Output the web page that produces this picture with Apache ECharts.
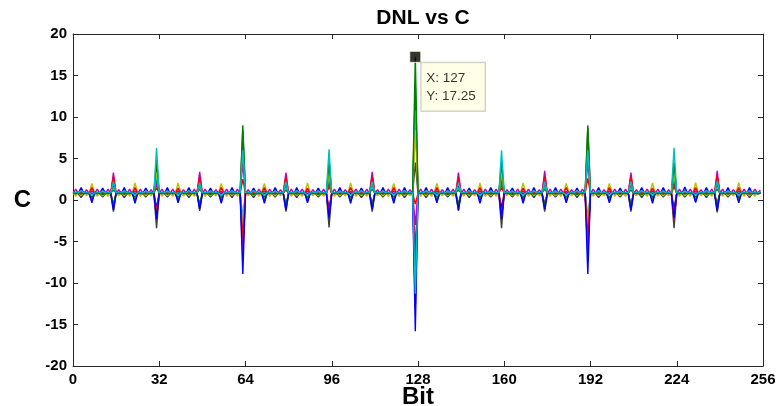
<!DOCTYPE html>
<html>
<head>
<meta charset="utf-8">
<script src="https://cdn.jsdelivr.net/npm/echarts@6/dist/echarts.min.js"></script>
<style>
html,body{margin:0;padding:0;background:#fff;}
#chart{width:780px;height:406px;}
</style>
</head>
<body>
<div id="chart"></div>
<script>
// ---- data ----
const titleText = 'DNL vs C';
const xName = 'Bit';
const yName = 'C';
const xTicks = [0, 32, 64, 96, 128, 160, 192, 224, 256];
const yTicks = [-20, -15, -10, -5, 0, 5, 10, 15, 20];
const nBits = 256;

// codes where the DNL excursions occur
const majorBits = [
  3, 7, 11, 15, 19, 23, 27, 31,
  35, 39, 43, 47, 51, 55, 59, 63,
  67, 71, 75, 79, 83, 87, 91, 95,
  99, 103, 107, 111, 115, 119, 123, 127,
  131, 135, 139, 143, 147, 151, 155, 159,
  163, 167, 171, 175, 179, 183, 187, 191,
  195, 199, 203, 207, 211, 215, 219, 223,
  227, 231, 235, 239, 243, 247, 251, 255
];
// codes with the small ripples
const minorBits = [
  1, 5, 9, 13, 17, 21, 25, 29,
  33, 37, 41, 45, 49, 53, 57, 61,
  65, 69, 73, 77, 81, 85, 89, 93,
  97, 101, 105, 109, 113, 117, 121, 125,
  129, 133, 137, 141, 145, 149, 153, 157,
  161, 165, 169, 173, 177, 181, 185, 189,
  193, 197, 201, 205, 209, 213, 217, 221,
  225, 229, 233, 237, 241, 245, 249, 253
];
// codes with the large excursions (second group of curves)
const bigBits = [15, 31, 47, 63, 79, 95, 111, 127, 143, 159, 175, 191, 207, 223, 239, 255];

const seriesNames = ['k', 'y', 'm', 'r', 'g', 'b', 'c'];
const baselines = [0.75, 0.88, 0.78, 0.8, 0.84, 0.82, 0.86];
const seriesNames2 = ['k2', 'y2', 'm2', 'r2', 'g2', 'b2', 'c2'];
const baselines2 = [0.78, 0.92, 0.74, 0.83, 0.87, 0.8, 0.9];

const kMajor = [
  0.3, -0.1, 0.35, -1.4, 0.3, -0.05, 0.35, -3.4,
  0.35, -0.1, 0.3, -1.3, 0.35, -0.1, 0.3, 8.4,
  0.3, -0.05, 0.35, -1.4, 0.3, -0.1, 0.35, -3.3,
  0.35, -0.1, 0.3, -1.4, 0.35, -0.05, 0.3, 4.5,
  0.3, -0.1, 0.35, -1.3, 0.3, -0.1, 0.35, -3.4,
  0.35, -0.05, 0.3, -1.4, 0.35, -0.1, 0.3, 8.7,
  0.3, -0.1, 0.35, -1.4, 0.3, -0.05, 0.35, -3.4,
  0.35, -0.1, 0.3, -1.5, 0.35, -0.1, 0.3, 0.8
];
const yMajor = [
  0.55, 2.0, 0.5, 2.4, 0.55, 2.05, 0.5, 3.4,
  0.5, 2.05, 0.55, 2.3, 0.5, 2.0, 0.55, -3.0,
  0.55, 2.0, 0.5, 2.4, 0.55, 2.05, 0.5, 3.3,
  0.5, 2.05, 0.55, 2.4, 0.5, 2.0, 0.55, 8.4,
  0.55, 2.0, 0.5, 2.3, 0.55, 2.05, 0.5, 3.4,
  0.5, 2.05, 0.55, 2.4, 0.5, 2.0, 0.55, -3.0,
  0.55, 2.0, 0.5, 2.4, 0.55, 2.05, 0.5, 3.3,
  0.5, 2.1, 0.55, 2.4, 0.5, 2.1, 0.5, 0.9
];
const mMajor = [
  1.25, 1.1, 1.2, 3.3, 1.25, 1.1, 1.2, -2.0,
  1.2, 1.1, 1.25, 3.4, 1.2, 1.05, 1.25, -6.8,
  1.25, 1.1, 1.2, 3.3, 1.25, 1.1, 1.2, -1.9,
  1.2, 1.05, 1.25, 3.4, 1.2, 1.1, 1.25, -3.0,
  1.25, 1.1, 1.2, 3.3, 1.25, 1.1, 1.2, -2.0,
  1.2, 1.1, 1.25, 3.5, 1.2, 1.05, 1.25, -6.8,
  1.25, 1.1, 1.2, 3.3, 1.25, 1.1, 1.2, -1.9,
  1.2, 1.1, 1.25, 3.5, 1.2, 1.1, 1.2, 1.2
];
const rMajor = [
  1.0, 1.5, 1.0, 2.8, 1.05, 1.5, 1.0, -1.3,
  1.0, 1.45, 1.0, 2.7, 1.0, 1.5, 1.05, -4.5,
  1.0, 1.5, 1.0, 2.8, 1.0, 1.45, 1.0, -1.6,
  1.05, 1.5, 1.0, 2.8, 1.0, 1.5, 1.0, -0.5,
  1.0, 1.5, 1.05, 2.7, 1.0, 1.5, 1.0, -1.8,
  1.0, 1.45, 1.0, 2.8, 1.05, 1.5, 1.0, -4.5,
  1.0, 1.5, 1.0, 2.8, 1.0, 1.45, 1.0, -2.4,
  1.0, 1.5, 1.0, 2.9, 1.0, 1.5, 1.0, 0.95
];
const gMajor = [
  0.7, 0.25, 0.65, -0.6, 0.7, 0.3, 0.7, 4.8,
  0.7, 0.25, 0.7, -0.5, 0.65, 0.25, 0.7, 9.0,
  0.65, 0.3, 0.7, -0.6, 0.7, 0.25, 0.65, 4.5,
  0.7, 0.25, 0.7, -0.6, 0.7, 0.3, 0.7, 17.25,
  0.7, 0.3, 0.65, -0.5, 0.7, 0.25, 0.7, 4.6,
  0.65, 0.25, 0.7, -0.6, 0.7, 0.3, 0.65, 9.0,
  0.7, 0.25, 0.7, -0.6, 0.65, 0.25, 0.7, 4.5,
  0.7, 0.3, 0.7, -0.5, 0.7, 0.25, 0.7, 0.9
];
const bMajor = [
  1.5, -0.35, 1.45, -1.2, 1.5, -0.4, 1.45, -2.3,
  1.5, -0.35, 1.5, -1.1, 1.45, -0.4, 1.5, -8.9,
  1.45, -0.4, 1.5, -1.2, 1.5, -0.35, 1.45, -2.2,
  1.5, -0.4, 1.45, -1.1, 1.5, -0.4, 1.5, -15.8,
  1.5, -0.35, 1.5, -1.2, 1.45, -0.4, 1.5, -2.3,
  1.45, -0.4, 1.5, -1.1, 1.5, -0.35, 1.45, -8.9,
  1.5, -0.35, 1.45, -1.2, 1.5, -0.4, 1.5, -2.2,
  1.55, -0.3, 1.5, -1.3, 1.5, -0.35, 1.5, 0.9
];
const cMajor = [
  1.15, 0.6, 1.1, 2.2, 1.15, 0.6, 1.1, 6.3,
  1.1, 0.6, 1.15, 2.1, 1.1, 0.55, 1.15, 6.0,
  1.15, 0.55, 1.1, 2.2, 1.15, 0.6, 1.1, 6.1,
  1.1, 0.6, 1.15, 2.2, 1.1, 0.6, 1.15, -11.3,
  1.15, 0.6, 1.1, 2.1, 1.15, 0.55, 1.1, 6.0,
  1.1, 0.55, 1.15, 2.2, 1.1, 0.6, 1.15, 6.0,
  1.15, 0.6, 1.1, 2.2, 1.15, 0.6, 1.1, 6.3,
  1.1, 0.6, 1.15, 2.3, 1.1, 0.55, 1.1, 0.95
];
const mMinor = [
  1.3, 1.25, 1.3, 1.3, 1.25, 1.3, 1.3, 1.25,
  1.3, 1.3, 1.25, 1.3, 1.3, 1.25, 1.3, 1.3,
  1.25, 1.3, 1.3, 1.25, 1.3, 1.3, 1.25, 1.3,
  1.3, 1.25, 1.3, 1.3, 1.25, 1.3, 1.3, 1.25,
  1.3, 1.3, 1.25, 1.3, 1.3, 1.25, 1.3, 1.3,
  1.25, 1.3, 1.3, 1.25, 1.3, 1.3, 1.25, 1.3,
  1.3, 1.25, 1.3, 1.3, 1.25, 1.3, 1.3, 1.25,
  1.3, 1.3, 1.25, 1.3, 1.3, 1.25, 1.3, 1.3
];
const yMinor = [
  0.45, 0.5, 0.45, 0.45, 0.5, 0.45, 0.45, 0.5,
  0.45, 0.45, 0.5, 0.45, 0.45, 0.5, 0.45, 0.45,
  0.5, 0.45, 0.45, 0.5, 0.45, 0.45, 0.5, 0.45,
  0.45, 0.5, 0.45, 0.45, 0.5, 0.45, 0.45, 0.5,
  0.45, 0.45, 0.5, 0.45, 0.45, 0.5, 0.45, 0.45,
  0.5, 0.45, 0.45, 0.5, 0.45, 0.45, 0.5, 0.45,
  0.45, 0.5, 0.45, 0.45, 0.5, 0.45, 0.45, 0.5,
  0.45, 0.45, 0.5, 0.45, 0.45, 0.5, 0.45, 0.45
];
// second group: values at bigBits
const k2Big = [1.8, 4.0, 1.7, -5.0, 1.8, 3.8, 1.7, -7.0, 1.8, 4.0, 1.7, -5.2, 1.8, 3.9, 1.7, 0.85];
const y2Big = [2.8, -0.8, 2.9, 6.5, 2.8, -0.9, 2.9, 12.5, 2.8, -0.8, 2.9, 6.8, 2.8, -0.9, 2.9, 1.0];
const m2Big = [-0.5, 2.0, -0.4, 4.5, -0.5, 2.1, -0.4, -9.5, -0.5, 2.0, -0.4, 4.6, -0.5, 2.1, -0.4, 0.8];
const r2Big = [-0.8, 1.5, -0.9, 2.5, -0.8, 1.6, -0.9, -6.0, -0.8, 1.5, -0.9, 2.6, -0.8, 1.6, -0.9, 0.9];
const g2Big = [1.2, 2.5, 1.3, -6.2, 1.2, 2.6, 1.3, 14.0, 1.2, 2.5, 1.3, -4.0, 1.2, 2.6, 1.3, 0.93];
const b2Big = [2.0, -1.0, 2.1, -3.2, 2.0, -1.1, 2.1, -13.0, 2.0, -1.0, 2.1, -3.3, 2.0, -1.1, 2.1, 0.86];
const c2Big = [1.5, 3.0, 1.6, -2.0, 1.5, 3.1, 1.6, 10.8, 1.5, 3.0, 1.6, -2.1, 1.5, 3.1, 1.6, 0.96];

// data tip
const tipX = 127;
const tipY = 17.25;

// ---- build ----
const majorBySeries = { k: kMajor, y: yMajor, m: mMajor, r: rMajor, g: gMajor, b: bMajor, c: cMajor };
const minorBySeries = { m: mMinor, y: yMinor };
const bigBySeries = { k2: k2Big, y2: y2Big, m2: m2Big, r2: r2Big, g2: g2Big, b2: b2Big, c2: c2Big };
const colorOf = {
  b: '#0000ff', g: '#008000', r: '#ff0000', c: '#00bfbf',
  m: '#bf00bf', y: '#bfbf00', k: '#404040'
};

function buildSeriesData(name, base) {
  const vals = new Array(nBits).fill(base);
  const maj = majorBySeries[name];
  if (maj) majorBits.forEach((bit, i) => { vals[bit] = maj[i]; });
  const mino = minorBySeries[name];
  if (mino) minorBits.forEach((bit, i) => { vals[bit] = mino[i]; });
  const big = bigBySeries[name];
  if (big) bigBits.forEach((bit, i) => { vals[bit] = big[i]; });
  return vals.map((v, x) => [x, v]);
}

function makeLine(name, base) {
  const col = colorOf[name.charAt(0)];
  return {
    name: name,
    type: 'line',
    xAxisIndex: 0,
    yAxisIndex: 0,
    data: buildSeriesData(name, base),
    showSymbol: false,
    symbol: 'none',
    lineStyle: { color: col, width: 1.4 },
    itemStyle: { color: col },
    silent: true,
    animation: false
  };
}

const lineSeries = seriesNames2.map((n, i) => makeLine(n, baselines2[i]))
  .concat(seriesNames.map((n, i) => makeLine(n, baselines[i])));

const fontFam = 'Liberation Sans, Arial, sans-serif';

const tipSeries = {
  type: 'scatter',
  xAxisIndex: 0,
  yAxisIndex: 0,
  data: [[tipX, tipY]],
  symbol: 'rect',
  symbolSize: 11,
  itemStyle: { color: '#000000', borderColor: '#ffffd0', borderWidth: 1 },
  z: 10,
  animation: false,
  label: {
    show: true,
    position: [12, 12],
    formatter: p => 'X: ' + p.value[0] + '\nY: ' + p.value[1],
    fontFamily: fontFam,
    fontSize: 13.5,
    color: '#000',
    lineHeight: 18,
    backgroundColor: '#ffffe1',
    borderColor: '#b8b8b8',
    borderWidth: 1,
    padding: [6, 9, 6, 5],
    align: 'left',
    verticalAlign: 'top'
  }
};

const axisLineStyle = { show: true, onZero: false, lineStyle: { color: '#262626', width: 1 } };
const tickStyle = { show: true, inside: true, length: 5, lineStyle: { color: '#262626', width: 1 } };

const chart = echarts.init(document.getElementById('chart'), null, { renderer: 'canvas' });
chart.setOption({
  backgroundColor: '#ffffff',
  animation: false,
  title: {
    text: titleText,
    left: 418,
    top: 3,
    textAlign: 'center',
    textStyle: { fontFamily: fontFam, fontWeight: 'bold', fontSize: 21, color: '#000' }
  },
  grid: { left: 73, right: 17, top: 34, bottom: 40, containLabel: false, outerBoundsMode: 'none' },
  xAxis: [
    {
      type: 'value',
      position: 'bottom',
      min: xTicks[0], max: xTicks[xTicks.length - 1], interval: xTicks[1] - xTicks[0],
      name: xName,
      nameLocation: 'middle',
      nameGap: 19,
      nameMoveOverlap: false,
      nameTextStyle: { fontFamily: fontFam, fontWeight: 'bold', fontSize: 24, color: '#000' },
      axisLine: axisLineStyle,
      axisTick: tickStyle,
      splitLine: { show: false },
      axisLabel: { fontFamily: fontFam, fontWeight: 'bold', fontSize: 15, color: '#000', margin: 6 }
    },
    {
      type: 'value',
      position: 'top',
      min: xTicks[0], max: xTicks[xTicks.length - 1], interval: xTicks[1] - xTicks[0],
      axisLine: axisLineStyle,
      axisTick: tickStyle,
      splitLine: { show: false },
      axisLabel: { show: false }
    }
  ],
  yAxis: [
    {
      type: 'value',
      position: 'left',
      min: yTicks[0], max: yTicks[yTicks.length - 1], interval: yTicks[1] - yTicks[0],
      name: yName,
      nameLocation: 'middle',
      nameRotate: 0,
      nameGap: 42,
      nameMoveOverlap: false,
      nameTextStyle: { fontFamily: fontFam, fontWeight: 'bold', fontSize: 24, color: '#000' },
      axisLine: axisLineStyle,
      axisTick: tickStyle,
      splitLine: { show: false },
      axisLabel: { fontFamily: fontFam, fontWeight: 'bold', fontSize: 15, color: '#000', margin: 6 }
    },
    {
      type: 'value',
      position: 'right',
      min: yTicks[0], max: yTicks[yTicks.length - 1], interval: yTicks[1] - yTicks[0],
      axisLine: axisLineStyle,
      axisTick: tickStyle,
      splitLine: { show: false },
      axisLabel: { show: false }
    }
  ],
  series: lineSeries.concat([tipSeries])
});
</script>
</body>
</html>
